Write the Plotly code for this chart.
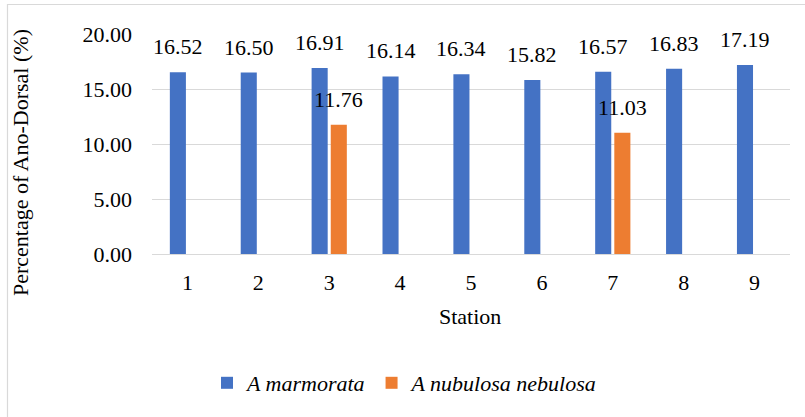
import plotly.graph_objects as go

# Ano-dorsal percentage by sampling station
stations = ["1", "2", "3", "4", "5", "6", "7", "8", "9"]
marmorata = [16.52, 16.50, 16.91, 16.14, 16.34, 15.82, 16.57, 16.83, 17.19]
nebulosa = [None, None, 11.76, None, None, None, 11.03, None, None]
y_ticks = [0, 5, 10, 15, 20]

BLUE = "#4472C4"
ORANGE = "#ED7D31"
GRID = "#D9D9D9"
FONT = "Times New Roman"
SIZE = 22
TEXT = "black"

W, H = 805, 417
L, R, T, B = 152, 15, 34, 163
plot_w = W - L - R
plot_h = H - T - B


def px_x(x):
    return (x - L) / plot_w


def px_y(y):
    return (H - B - y) / plot_h


fig = go.Figure()
fig.add_trace(go.Bar(x=stations, y=marmorata, name="<i>A marmorata</i>",
                     marker=dict(color=BLUE, line=dict(width=0))))
fig.add_trace(go.Bar(x=stations, y=nebulosa, name="<i>A nubulosa nebulosa</i>",
                     marker=dict(color=ORANGE, line=dict(width=0))))

# value labels above each bar (category index positions)
slot = plot_w / len(stations) * (1 - 0.46) / 2
annotations = []
for series, shift in ((marmorata, -slot / 2), (nebulosa, slot / 2)):
    for i, v in enumerate(series):
        if v is None:
            continue
        annotations.append(dict(x=i, y=v, xref="x", yref="y", text=f"{v:.2f}",
                                showarrow=False, xshift=shift, yshift=11,
                                yanchor="bottom", xanchor="center",
                                font=dict(family=FONT, size=SIZE, color=TEXT)))

# axis titles
annotations.append(dict(x=px_x(470), y=px_y(316), xref="paper", yref="paper",
                        text="Station", showarrow=False,
                        xanchor="center", yanchor="middle",
                        font=dict(family=FONT, size=SIZE, color=TEXT)))
annotations.append(dict(x=px_x(20), y=px_y(163), xref="paper", yref="paper",
                        text="Percentage of Ano-Dorsal (%)", showarrow=False,
                        textangle=-90, xanchor="center", yanchor="middle",
                        font=dict(family=FONT, size=SIZE, color=TEXT)))

# chart frame
shapes = [dict(type="rect", xref="paper", yref="paper",
               x0=px_x(7.5), x1=px_x(W + 5), y0=px_y(H + 5), y1=px_y(4.5),
               line=dict(color="#D9D9D9", width=1.2), layer="below")]

fig.update_layout(
    width=W, height=H,
    margin=dict(l=L, r=R, t=T, b=B),
    paper_bgcolor="white", plot_bgcolor="white",
    font=dict(family=FONT, size=SIZE, color=TEXT),
    barmode="group", bargap=0.46, bargroupgap=0.16,
    showlegend=True,
    legend=dict(orientation="h", x=px_x(207), y=px_y(383),
                xanchor="left", yanchor="middle",
                font=dict(family=FONT, size=SIZE, color=TEXT),
                bgcolor="rgba(0,0,0,0)", itemwidth=30),
    annotations=annotations,
    shapes=shapes,
    xaxis=dict(type="category", range=[-0.5, 8.5], showgrid=False,
               showline=False, ticks="", ticklabelstandoff=13, zeroline=False,
               tickfont=dict(family=FONT, size=SIZE, color=TEXT)),
    yaxis=dict(range=[0, 20], tickvals=y_ticks, tickformat=".2f",
               showgrid=True, gridcolor=GRID, gridwidth=1.3,
               zeroline=True, zerolinecolor=GRID, zerolinewidth=1.3,
               showline=False, ticks="", ticklabelstandoff=19,
               tickfont=dict(family=FONT, size=SIZE, color=TEXT)),
)

fig.write_html("out.html")
